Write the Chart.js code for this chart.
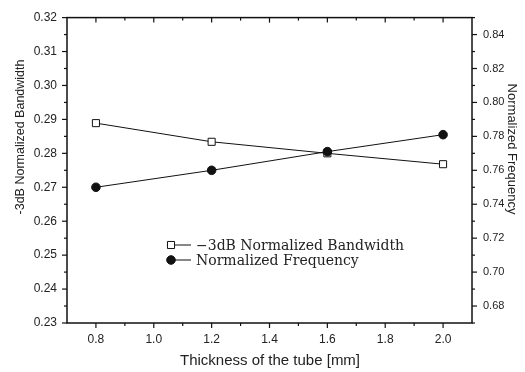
<!DOCTYPE html>
<html>
<head>
<meta charset="utf-8">
<script src="https://cdn.jsdelivr.net/npm/chart.js@4/dist/chart.umd.min.js"></script>
<style>
  html, body { margin: 0; padding: 0; background: #fff; }
  #wrap { width: 525px; height: 372px; position: relative; }
</style>
</head>
<body>
<div id="wrap"><canvas id="c"></canvas></div>
<script>
// Tube thickness [mm] and the two measured responses
const thickness = [0.8, 1.2, 1.6, 2.0];
const bandwidth = [0.2889, 0.2834, 0.2800, 0.2768];   // -3dB normalized bandwidth (left axis)
const frequency = [0.750, 0.760, 0.771, 0.781];       // normalized frequency (right axis)

// Axis ticks
const xTicks = [0.8, 1.0, 1.2, 1.4, 1.6, 1.8, 2.0];
const xMinorTicks = [0.9, 1.1, 1.3, 1.5, 1.7, 1.9];
const leftTicks = [0.23, 0.24, 0.25, 0.26, 0.27, 0.28, 0.29, 0.30, 0.31, 0.32];
const leftMinorTicks = [0.235, 0.245, 0.255, 0.265, 0.275, 0.285, 0.295, 0.305, 0.315];
const rightTicks = [0.68, 0.70, 0.72, 0.74, 0.76, 0.78, 0.80, 0.82, 0.84];
const rightMinorTicks = [0.67, 0.69, 0.71, 0.73, 0.75, 0.77, 0.79, 0.81, 0.83, 0.85];

const seriesLabels = ['\u22123dB Normalized Bandwidth', 'Normalized Frequency'];
const xTitle = 'Thickness of the tube [mm]';
const leftTitle = '-3dB Normalized Bandwidth';
const rightTitle = 'Normalized Frequency';

const INK = '#111';
const SANS = '"Liberation Sans", Arial, sans-serif';
const SERIF = '"DejaVu Serif", "Liberation Serif", serif';

function toPoints(xs, ys) { return xs.map((x, i) => ({ x: x, y: ys[i] })); }
function setTicks(values) { return scale => { scale.ticks = values.map(v => ({ value: v })); }; }

// Frame, tick marks, axis titles and legend
const decorations = {
  id: 'decorations',
  afterDraw(chart) {
    const ctx = chart.ctx;
    const a = chart.chartArea;
    const sx = chart.scales.x, sl = chart.scales.y, sr = chart.scales.y2;
    ctx.save();
    ctx.strokeStyle = INK;
    ctx.lineWidth = 1.5;
    ctx.strokeRect(a.left, a.top, a.right - a.left, a.bottom - a.top);

    ctx.lineWidth = 1.2;
    const seg = (x1, y1, x2, y2) => { ctx.beginPath(); ctx.moveTo(x1, y1); ctx.lineTo(x2, y2); ctx.stroke(); };
    // bottom (outward) and top (inward)
    xTicks.forEach(v => { const p = sx.getPixelForValue(v); seg(p, a.bottom, p, a.bottom + 5); seg(p, a.top, p, a.top + 5); });
    xMinorTicks.forEach(v => { const p = sx.getPixelForValue(v); seg(p, a.bottom, p, a.bottom + 3); seg(p, a.top, p, a.top + 3); });
    // left (outward)
    leftTicks.forEach(v => { const p = sl.getPixelForValue(v); seg(a.left - 5, p, a.left, p); });
    leftMinorTicks.forEach(v => { const p = sl.getPixelForValue(v); seg(a.left - 3, p, a.left, p); });
    // right (outward)
    rightTicks.forEach(v => { const p = sr.getPixelForValue(v); seg(a.right, p, a.right + 5, p); });
    rightMinorTicks.forEach(v => { const p = sr.getPixelForValue(v); seg(a.right, p, a.right + 3, p); });

    // axis titles
    ctx.fillStyle = '#222';
    ctx.textAlign = 'center';
    ctx.textBaseline = 'middle';
    ctx.font = '15px ' + SANS;
    ctx.fillText(xTitle, 270, 361);
    ctx.save();
    ctx.translate(21, 137);
    ctx.rotate(-Math.PI / 2);
    ctx.font = '12.5px ' + SANS;
    ctx.fillText(leftTitle, 0, 0);
    ctx.restore();
    ctx.save();
    ctx.translate(512, 149);
    ctx.rotate(Math.PI / 2);
    ctx.font = '13px ' + SANS;
    ctx.fillText(rightTitle, 0, 0);
    ctx.restore();

    // legend
    const lx = 167, ly = 245, gap = 15;
    chart.data.datasets.forEach((ds, i) => {
      const y = ly + i * gap;
      ctx.strokeStyle = INK;
      ctx.lineWidth = 1;
      seg(lx, y, lx + 24, y);
      const r = ds.pointRadius;
      ctx.beginPath();
      if (ds.pointStyle === 'rect') {
        const h = r * Math.SQRT1_2;
        ctx.rect(lx + 4 - h, y - h, 2 * h, 2 * h);
      } else {
        ctx.arc(lx + 4, y, r, 0, Math.PI * 2);
      }
      ctx.fillStyle = ds.pointBackgroundColor;
      ctx.fill();
      ctx.stroke();
      ctx.fillStyle = '#222';
      ctx.textAlign = 'left';
      ctx.font = '14px ' + SERIF;
      ctx.fillText(ds.label, lx + 29, y + 1);
    });
    ctx.restore();
  }
};

new Chart(document.getElementById('c'), {
  type: 'line',
  data: {
    datasets: [
      {
        label: seriesLabels[0],
        data: toPoints(thickness, bandwidth),
        yAxisID: 'y',
        borderColor: INK,
        borderWidth: 1,
        pointStyle: 'rect',
        pointRadius: 5,
        pointBorderWidth: 1,
        pointBackgroundColor: '#fff',
        pointBorderColor: INK,
        order: 1
      },
      {
        label: seriesLabels[1],
        data: toPoints(thickness, frequency),
        yAxisID: 'y2',
        borderColor: INK,
        borderWidth: 1,
        pointStyle: 'circle',
        pointRadius: 4.3,
        pointBorderWidth: 1,
        pointBackgroundColor: INK,
        pointBorderColor: INK,
        order: 0
      }
    ]
  },
  options: {
    responsive: true,
    maintainAspectRatio: false,
    animation: false,
    layout: { padding: { top: 17, left: 0, right: 0, bottom: 0 } },
    plugins: { legend: { display: false }, tooltip: { enabled: false } },
    scales: {
      x: {
        type: 'linear',
        position: 'bottom',
        min: 0.7,
        max: 2.1,
        afterBuildTicks: setTicks(xTicks),
        afterFit: s => { s.height = 49; },
        grid: { display: false, drawTicks: false },
        border: { display: false },
        ticks: { padding: 9, color: '#222', font: { family: SANS, size: 12 }, callback: v => v.toFixed(1), maxRotation: 0 }
      },
      y: {
        type: 'linear',
        position: 'left',
        min: 0.23,
        max: 0.32,
        afterBuildTicks: setTicks(leftTicks),
        afterFit: s => { s.width = 67; },
        grid: { display: false, drawTicks: false },
        border: { display: false },
        ticks: { padding: 10, color: '#222', font: { family: SANS, size: 12 }, callback: v => v.toFixed(2) }
      },
      y2: {
        type: 'linear',
        position: 'right',
        min: 0.67,
        max: 0.85,
        afterBuildTicks: setTicks(rightTicks),
        afterFit: s => { s.width = 53; },
        grid: { display: false, drawTicks: false },
        border: { display: false },
        ticks: { padding: 11, color: '#222', font: { family: SANS, size: 11 }, callback: v => v.toFixed(2) }
      }
    }
  },
  plugins: [decorations]
});
</script>
</body>
</html>
